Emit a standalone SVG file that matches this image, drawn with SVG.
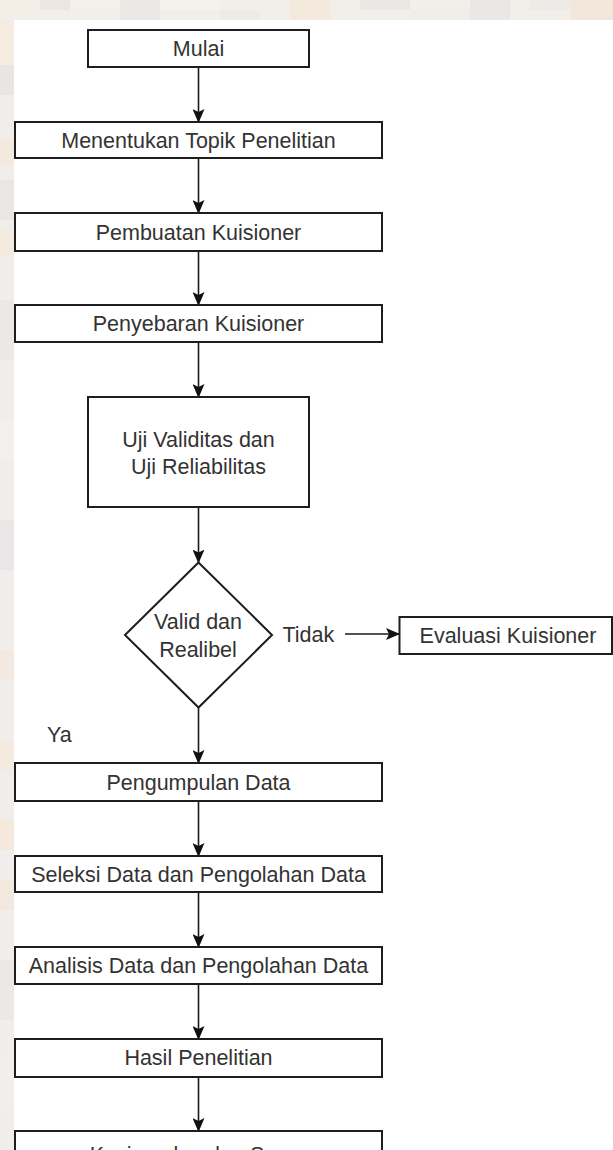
<svg xmlns="http://www.w3.org/2000/svg" width="613" height="1150" viewBox="0 0 613 1150">
  <defs>
    <style>
      .box { fill: #ffffff; stroke: #1e1e1e; stroke-width: 2; }
      .lbl { font-family: "Liberation Sans", Arial, sans-serif; font-size: 21.5px; fill: #333333; text-anchor: middle; }
      .free { font-family: "Liberation Sans", Arial, sans-serif; font-size: 21.5px; fill: #333333; }
      .edge { fill: none; stroke: #1a1a1a; stroke-width: 1.6; }
    </style>
    <marker id="arrow" viewBox="0 0 14 12" refX="13" refY="6" markerWidth="14" markerHeight="12" markerUnits="userSpaceOnUse" orient="auto">
      <path d="M0,0 L14,6 L0,12 L3,6 Z" fill="#111111"/>
    </marker>
  </defs>

  <!-- page background with faint texture at top and left -->
  <g id="background">
    <rect x="0" y="0" width="613" height="1150" fill="#ffffff"/>
    <rect x="0" y="0" width="613" height="20" fill="#f2eee9"/>
    <rect x="0" y="0" width="40" height="10" fill="#f4eee6"/>
    <rect x="40" y="0" width="30" height="10" fill="#ede5e2"/>
    <rect x="70" y="0" width="50" height="10" fill="#f3efea"/>
    <rect x="120" y="0" width="40" height="20" fill="#ece8e5"/>
    <rect x="160" y="0" width="60" height="10" fill="#f5f1ec"/>
    <rect x="220" y="10" width="40" height="10" fill="#eeeae6"/>
    <rect x="290" y="0" width="40" height="20" fill="#f4e9dd"/>
    <rect x="360" y="0" width="50" height="10" fill="#e9e6e4"/>
    <rect x="410" y="10" width="60" height="10" fill="#f1ede9"/>
    <rect x="470" y="0" width="40" height="20" fill="#ebe7e5"/>
    <rect x="530" y="0" width="40" height="10" fill="#eeeae8"/>
    <rect x="570" y="0" width="43" height="20" fill="#f3e7db"/>
    <rect x="0" y="20" width="14" height="1130" fill="#f0edea"/>
    <rect x="0" y="20" width="14" height="45" fill="#f5ebe0"/>
    <rect x="0" y="65" width="14" height="30" fill="#e8e5e4"/>
    <rect x="0" y="140" width="14" height="25" fill="#f3e9df"/>
    <rect x="0" y="180" width="14" height="40" fill="#e9e7e6"/>
    <rect x="0" y="230" width="14" height="25" fill="#f4eae0"/>
    <rect x="0" y="300" width="14" height="60" fill="#ebe9e8"/>
    <rect x="0" y="420" width="14" height="40" fill="#f2efec"/>
    <rect x="0" y="520" width="14" height="50" fill="#e8e6e6"/>
    <rect x="0" y="650" width="14" height="30" fill="#f3e9e0"/>
    <rect x="0" y="740" width="14" height="30" fill="#f4eae0"/>
    <rect x="0" y="820" width="14" height="30" fill="#f5e8dc"/>
    <rect x="0" y="880" width="14" height="30" fill="#f3e8de"/>
    <rect x="0" y="960" width="14" height="60" fill="#ebe9e8"/>
    <rect x="0" y="1060" width="14" height="50" fill="#f1eeeb"/>
  </g>

  <!-- connectors -->
  <g id="connectors">
    <line class="edge" x1="198.5" y1="67" x2="198.5" y2="122" marker-end="url(#arrow)"/>
    <line class="edge" x1="198.5" y1="158" x2="198.5" y2="213" marker-end="url(#arrow)"/>
    <line class="edge" x1="198.5" y1="251" x2="198.5" y2="305" marker-end="url(#arrow)"/>
    <line class="edge" x1="198.5" y1="342" x2="198.5" y2="397" marker-end="url(#arrow)"/>
    <line class="edge" x1="198.5" y1="507" x2="198.5" y2="562.5" marker-end="url(#arrow)"/>
    <line class="edge" x1="198.5" y1="707.5" x2="198.5" y2="763" marker-end="url(#arrow)"/>
    <line class="edge" x1="198.5" y1="801" x2="198.5" y2="856" marker-end="url(#arrow)"/>
    <line class="edge" x1="198.5" y1="892" x2="198.5" y2="947" marker-end="url(#arrow)"/>
    <line class="edge" x1="198.5" y1="984" x2="198.5" y2="1039" marker-end="url(#arrow)"/>
    <line class="edge" x1="198.5" y1="1077" x2="198.5" y2="1131" marker-end="url(#arrow)"/>
    <line class="edge" x1="345" y1="634" x2="399" y2="634" marker-end="url(#arrow)"/>
    <text class="free" x="282.5" y="642">Tidak</text>
    <text class="free" x="47" y="742">Ya</text>
  </g>

  <g id="mulai">
    <rect class="box" x="88" y="30" width="221" height="37"/>
    <text class="lbl" x="198.5" y="56">Mulai</text>
  </g>
  <g id="topik">
    <rect class="box" x="15" y="122" width="367" height="36"/>
    <text class="lbl" x="198.5" y="147.5">Menentukan Topik Penelitian</text>
  </g>
  <g id="pembuatan">
    <rect class="box" x="15" y="213" width="367" height="38"/>
    <text class="lbl" x="198.5" y="239.5">Pembuatan Kuisioner</text>
  </g>
  <g id="penyebaran">
    <rect class="box" x="15" y="305" width="367" height="37"/>
    <text class="lbl" x="198.5" y="331">Penyebaran Kuisioner</text>
  </g>
  <g id="uji">
    <rect class="box" x="88" y="397" width="221" height="110"/>
    <text class="lbl" x="198.5" y="447">Uji Validitas dan</text>
    <text class="lbl" x="198.5" y="473.5">Uji Reliabilitas</text>
  </g>
  <g id="keputusan">
    <polygon class="box" points="198.5,562.5 272,635 198.5,707.5 125,635"/>
    <text class="lbl" x="198" y="629">Valid dan</text>
    <text class="lbl" x="198" y="656.5">Realibel</text>
  </g>
  <g id="evaluasi">
    <rect class="box" x="399.5" y="617" width="212.5" height="37"/>
    <text class="lbl" x="508" y="642.5">Evaluasi Kuisioner</text>
  </g>
  <g id="pengumpulan">
    <rect class="box" x="15" y="763" width="367" height="38"/>
    <text class="lbl" x="198.5" y="789.5">Pengumpulan Data</text>
  </g>
  <g id="seleksi">
    <rect class="box" x="15" y="856" width="367" height="36"/>
    <text class="lbl" x="198.5" y="881.5">Seleksi Data dan Pengolahan Data</text>
  </g>
  <g id="analisis">
    <rect class="box" x="15" y="947" width="367" height="37"/>
    <text class="lbl" x="198.5" y="973">Analisis Data dan Pengolahan Data</text>
  </g>
  <g id="hasil">
    <rect class="box" x="15" y="1039" width="367" height="38"/>
    <text class="lbl" x="198.5" y="1064.5">Hasil Penelitian</text>
  </g>
  <g id="kesimpulan">
    <rect class="box" x="15" y="1131" width="367" height="40"/>
    <text class="lbl" x="198.5" y="1162">Kesimpulan dan Saran</text>
  </g>
</svg>
